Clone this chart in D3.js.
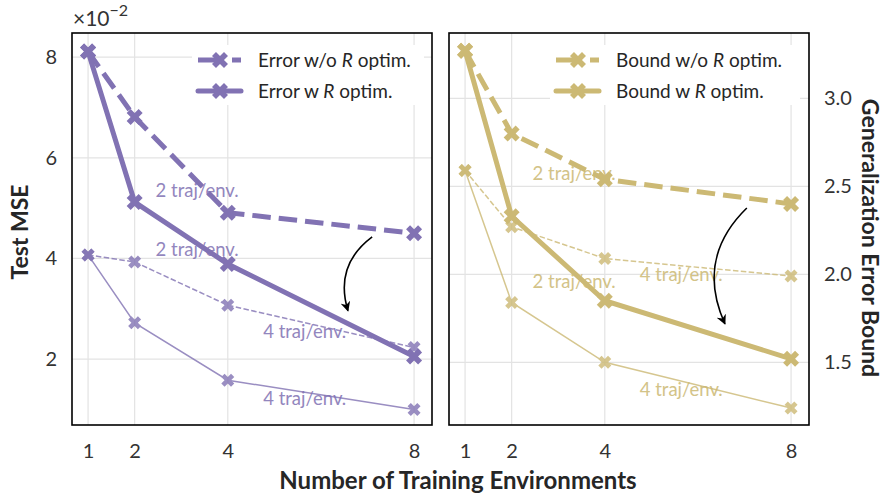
<!DOCTYPE html>
<html>
<head>
<meta charset="utf-8">
<script src="https://cdn.jsdelivr.net/npm/d3@7"></script>
<style>
  body { margin: 0; background: #fff; }
  svg { font-family: Lato, "Noto Sans", sans-serif; }
</style>
</head>
<body>
<div id="chart"></div>
<script>
// Data
const envs = [1, 2, 4, 8];
const xTicks = [1, 2, 4, 8];

// Test MSE, in units of 1e-2
const errNoR2 = [8.11, 6.81, 4.91, 4.5];
const errR2 = [8.11, 5.12, 3.89, 2.05];
const errNoR4 = [4.07, 3.93, 3.07, 2.23];
const errR4 = [4.07, 2.72, 1.58, 1.0];
const errTicks = [2, 4, 6, 8];

// Generalization error bound
const boundNoR2 = [3.27, 2.8, 2.54, 2.4];
const boundR2 = [3.27, 2.33, 1.85, 1.52];
const boundNoR4 = [2.59, 2.27, 2.09, 1.99];
const boundR4 = [2.59, 1.84, 1.5, 1.24];
const boundTicks = [1.5, 2.0, 2.5, 3.0];

const legendLeft = ["Error w/o ", "Error w "];
const legendRight = ["Bound w/o ", "Bound w "];
const annotLabels = ["2 traj/env.", "2 traj/env.", "4 traj/env.", "4 traj/env."];
// annotation anchors [x, y] in data units
const errAnnot = [[2.45, 5.22], [2.45, 4.05], [4.76, 2.41], [4.76, 1.085]];
const boundAnnot = [[2.45, 2.536], [2.45, 1.924], [4.75, 1.964], [4.75, 1.31]];
// arrows: [x0, y0, x1, y1] in data units
const errArrow = [7.1, 4.43, 6.58, 2.96];
const boundArrow = [7.05, 2.377, 6.58, 1.718];

function draw() {
  const dimensions = {
    width: 886,
    height: 503,
    top: 33,
    bottom: 425,
    panelWidth: 360,
    leftX: 72,
    rightX: 449,
  };

  const purple = "#8172B3";
  const gold = "#CCB974";

  const svg = d3
    .select("#chart")
    .append("svg")
    .attr("width", dimensions.width)
    .attr("height", dimensions.height);

  const defs = svg.append("defs");
  defs
    .append("marker")
    .attr("id", "arrowhead")
    .attr("viewBox", "0 0 10 10")
    .attr("refX", 9)
    .attr("refY", 5)
    .attr("markerWidth", 10)
    .attr("markerHeight", 10)
    .attr("markerUnits", "userSpaceOnUse")
    .attr("orient", "auto")
    .append("path")
    .attr("d", "M0,0 L10,5 L0,10 L3,5 Z")
    .attr("fill", "#000");

  const xDomain = [0.655, 8.385];

  function panel(opts) {
    const x0 = opts.x;
    const ctr = svg.append("g");

    const xScale = d3
      .scaleLinear()
      .domain(xDomain)
      .range([x0, x0 + dimensions.panelWidth]);
    const yScale = d3
      .scaleLinear()
      .domain(opts.yDomain)
      .range([dimensions.bottom, dimensions.top]);

    // grid
    ctr
      .selectAll(".vgrid")
      .data(xTicks)
      .join("line")
      .attr("x1", (d) => xScale(d))
      .attr("x2", (d) => xScale(d))
      .attr("y1", dimensions.top)
      .attr("y2", dimensions.bottom)
      .attr("stroke", "#e3e3e3")
      .attr("stroke-width", 1.2);
    ctr
      .selectAll(".hgrid")
      .data(opts.yTicks)
      .join("line")
      .attr("x1", x0)
      .attr("x2", x0 + dimensions.panelWidth)
      .attr("y1", (d) => yScale(d))
      .attr("y2", (d) => yScale(d))
      .attr("stroke", "#e3e3e3")
      .attr("stroke-width", 1.2);

    // axes (labels only, no tick marks)
    const xAxis = d3.axisBottom(xScale).tickValues(xTicks).tickSize(0).tickPadding(19);
    ctr
      .append("g")
      .attr("transform", `translate(0, ${dimensions.bottom})`)
      .call(xAxis)
      .call((g) => g.select(".domain").remove())
      .selectAll("text")
      .attr("font-size", 20)
      .attr("fill", "#333")
      .attr("font-family", "Lato, sans-serif");

    const yAxis = (opts.axisRight ? d3.axisRight(yScale) : d3.axisLeft(yScale))
      .tickValues(opts.yTicks)
      .tickFormat(opts.tickFormat)
      .tickSize(0)
      .tickPadding(15);
    ctr
      .append("g")
      .attr(
        "transform",
        `translate(${opts.axisRight ? x0 + dimensions.panelWidth : x0}, 0)`
      )
      .call(yAxis)
      .call((g) => g.select(".domain").remove())
      .selectAll("text")
      .attr("font-size", 20)
      .attr("fill", "#333")
      .attr("font-family", "Lato, sans-serif");

    const line = d3
      .line()
      .x((d, i) => xScale(envs[i]))
      .y((d) => yScale(d));

    const xMark = d3.symbol().type(d3.symbolCross);

    function series(values, color, width, dash, size, opacity) {
      const g = ctr.append("g").attr("opacity", opacity);
      g.append("path")
        .datum(values)
        .attr("d", line)
        .attr("fill", "none")
        .attr("stroke", color)
        .attr("stroke-width", width)
        .attr("stroke-dasharray", dash);
      g.selectAll("path.mk")
        .data(values)
        .join("path")
        .attr("class", "mk")
        .attr("d", xMark.size(size))
        .attr("fill", color)
        .attr(
          "transform",
          (d, i) => `translate(${xScale(envs[i])}, ${yScale(d)}) rotate(45)`
        );
    }

    // annotations
    ctr
      .selectAll(".annot")
      .data(opts.annot)
      .join("text")
      .attr("x", (d) => xScale(d[0]))
      .attr("y", (d) => yScale(d[1]))
      .attr("font-size", 18.5)
      .attr("fill", opts.color)
      .attr("opacity", 0.85)
      .text((d, i) => annotLabels[i]);

    series(opts.thin[0], opts.color, 1.5, "5.5,2.4", 105, 0.8);
    series(opts.thin[1], opts.color, 1.5, null, 105, 0.8);
    series(opts.thick[0], opts.color, 5, "18.5,8", 160, 1);
    series(opts.thick[1], opts.color, 5, null, 160, 1);

    // curved arrow
    const a = opts.arrow;
    const p0 = [xScale(a[0]), yScale(a[1])];
    const p1 = [xScale(a[2]), yScale(a[3])];
    const mx = (p0[0] + p1[0]) / 2;
    const my = (p0[1] + p1[1]) / 2;
    const dx = p1[0] - p0[0];
    const dy = p1[1] - p0[1];
    const rad = 0.35;
    const cx = mx - rad * dy;
    const cy = my + rad * dx;
    ctr
      .append("path")
      .attr("d", `M${p0[0]},${p0[1]} Q${cx},${cy} ${p1[0]},${p1[1]}`)
      .attr("fill", "none")
      .attr("stroke", "#000")
      .attr("stroke-width", 1.6)
      .attr("marker-end", "url(#arrowhead)");

    // legend
    const lg = ctr.append("g");
    const lx = x0 + opts.legendX;
    lg.append("rect")
      .attr("x", lx - 6)
      .attr("y", 45)
      .attr("width", opts.legendW)
      .attr("height", 60)
      .attr("fill", "#fff");
    [0, 1].forEach((k) => {
      const ly = 60 + k * 31;
      const dash = k === 0 ? "25,9" : null;
      lg.append("line")
        .attr("x1", lx)
        .attr("x2", lx + 43)
        .attr("y1", ly)
        .attr("y2", ly)
        .attr("stroke", opts.color)
        .attr("stroke-width", 5)
        .attr("stroke-linecap", k === 0 ? "butt" : "round")
        .attr("stroke-dasharray", dash);
      lg.append("path")
        .attr("d", xMark.size(160))
        .attr("fill", opts.color)
        .attr("transform", `translate(${lx + 22}, ${ly}) rotate(45)`);
      const t = lg
        .append("text")
        .attr("x", lx + 60)
        .attr("y", ly + 6.5)
        .attr("font-size", 19)
        .attr("fill", "#262626")
        .text(opts.legend[k]);
      t.append("tspan").attr("font-style", "italic").text("R");
      t.append("tspan").text(" optim.");
    });

    // frame
    ctr
      .append("rect")
      .attr("x", x0)
      .attr("y", dimensions.top)
      .attr("width", dimensions.panelWidth)
      .attr("height", dimensions.bottom - dimensions.top)
      .attr("fill", "none")
      .attr("stroke", "#000")
      .attr("stroke-width", 1.6);
  }

  panel({
    x: dimensions.leftX,
    yDomain: [0.69, 8.48],
    yTicks: errTicks,
    tickFormat: d3.format("d"),
    axisRight: false,
    color: purple,
    thin: [errNoR4, errR4],
    thick: [errNoR2, errR2],
    annot: errAnnot,
    arrow: errArrow,
    legend: legendLeft,
    legendX: 126,
    legendW: 232,
  });

  panel({
    x: dimensions.rightX,
    yDomain: [1.144, 3.371],
    yTicks: boundTicks,
    tickFormat: d3.format(".1f"),
    axisRight: true,
    color: gold,
    thin: [boundNoR4, boundR4],
    thick: [boundNoR2, boundR2],
    annot: boundAnnot,
    arrow: boundArrow,
    legend: legendRight,
    legendX: 107,
    legendW: 250,
  });

  // axis titles
  svg
    .append("text")
    .attr("x", 458)
    .attr("y", 489)
    .attr("text-anchor", "middle")
    .attr("font-size", 24)
    .attr("font-weight", "bold")
    .attr("fill", "#262626")
    .text("Number of Training Environments");

  svg
    .append("text")
    .attr("transform", "translate(28, 232) rotate(-90)")
    .attr("text-anchor", "middle")
    .attr("font-size", 23)
    .attr("font-weight", "bold")
    .attr("fill", "#262626")
    .text("Test MSE");

  svg
    .append("text")
    .attr("transform", "translate(862, 238) rotate(90)")
    .attr("text-anchor", "middle")
    .attr("font-size", 23)
    .attr("font-weight", "bold")
    .attr("fill", "#262626")
    .text("Generalization Error Bound");

  // offset text
  const off = svg
    .append("text")
    .attr("x", 73)
    .attr("y", 26)
    .attr("font-size", 21)
    .attr("fill", "#333")
    .text("×10");
  off.append("tspan").attr("dy", -10).attr("font-size", 16).text("−2");
}

draw();
</script>
</body>
</html>
